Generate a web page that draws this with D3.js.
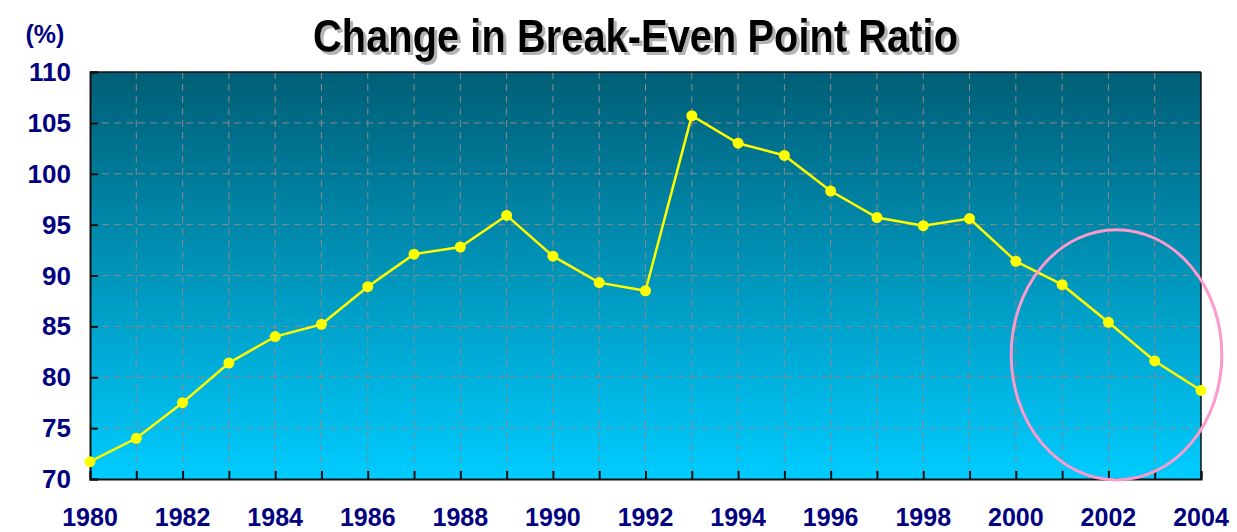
<!DOCTYPE html>
<html>
<head>
<meta charset="utf-8">
<script src="https://cdn.jsdelivr.net/npm/d3@7"></script>
<style>
  body { margin: 0; background: #fff; }
  svg { display: block; }
  .tick-label { font-family: "Liberation Sans", Arial, sans-serif; font-weight: bold; fill: #000080; font-size: 26px; }
</style>
</head>
<body>
<div id="chart"></div>
<script>
// Data
const years = [1980, 1981, 1982, 1983, 1984, 1985, 1986, 1987, 1988, 1989, 1990, 1991,
  1992, 1993, 1994, 1995, 1996, 1997, 1998, 1999, 2000, 2001, 2002, 2003, 2004];
const ratios = [71.7, 74.0, 77.5, 81.4, 84.0, 85.2, 88.9, 92.1, 92.8, 95.9, 91.9, 89.3,
  88.5, 105.7, 103.0, 101.8, 98.3, 95.7, 94.9, 95.6, 91.4, 89.1, 85.4, 81.6, 78.7];
const yTicks = [70, 75, 80, 85, 90, 95, 100, 105, 110];
const xLabelYears = years.filter((d) => d % 2 === 0);
const highlightYears = [1999.9, 2004.45]; // ellipse horizontal extent (in years)
const highlightValues = [69.9, 94.5]; // ellipse vertical extent (in %)

const data = years.map((y, i) => ({ year: y, value: ratios[i] }));

// Dimensions
let width = 1237;
let height = 532;
let margin = { top: 72, right: 36, bottom: 53, left: 90 };

const svg = d3.select("#chart").append("svg").attr("width", width).attr("height", height);

// Scales
let xScale = d3.scaleLinear().domain([1980, 2004]).range([margin.left, width - margin.right]);
let yScale = d3.scaleLinear().domain([70, 110]).range([height - margin.bottom, margin.top]);

// Background gradient
const defs = svg.append("defs");
const grad = defs.append("linearGradient").attr("id", "bg").attr("x1", 0).attr("y1", 0).attr("x2", 0).attr("y2", 1);
grad.append("stop").attr("offset", "0%").attr("stop-color", "#005e76");
grad.append("stop").attr("offset", "100%").attr("stop-color", "#00ccff");

const shadow = defs.append("filter").attr("id", "shadow").attr("x", "-5%").attr("y", "-20%").attr("width", "110%").attr("height", "140%");
shadow.append("feDropShadow").attr("dx", 3).attr("dy", 3).attr("stdDeviation", 0.7).attr("flood-color", "#aaa").attr("flood-opacity", 0.9);

svg.append("rect")
  .attr("x", xScale(1980))
  .attr("y", yScale(110))
  .attr("width", xScale(2004) - xScale(1980))
  .attr("height", yScale(70) - yScale(110))
  .attr("fill", "url(#bg)");

// Grid lines
svg.append("g")
  .selectAll("line")
  .data(years.slice(1, -1))
  .join("line")
  .attr("x1", (d) => xScale(d))
  .attr("x2", (d) => xScale(d))
  .attr("y1", yScale(110))
  .attr("y2", yScale(70))
  .attr("stroke", "#8a8a8a")
  .attr("stroke-width", 1)
  .attr("stroke-dasharray", "7,5");

svg.append("g")
  .selectAll("line")
  .data(yTicks.slice(1, -1))
  .join("line")
  .attr("x1", xScale(1980))
  .attr("x2", xScale(2004))
  .attr("y1", (d) => yScale(d))
  .attr("y2", (d) => yScale(d))
  .attr("stroke", "#8a8a8a")
  .attr("stroke-width", 1)
  .attr("stroke-dasharray", "7,5");

// Axes
const xAxisG = svg.append("g")
  .attr("transform", `translate(0,${yScale(70)})`)
  .call(d3.axisBottom(xScale).tickValues(years).tickSize(-8).tickFormat(""));
xAxisG.selectAll("line, path").attr("stroke", "#111").attr("stroke-width", 2);

const yAxisG = svg.append("g")
  .attr("transform", `translate(${xScale(1980)},0)`)
  .call(d3.axisLeft(yScale).tickValues(yTicks).tickSize(-8).tickFormat(""));
yAxisG.selectAll("line, path").attr("stroke", "#111").attr("stroke-width", 2);

svg.append("line")
  .attr("x1", xScale(2004)).attr("x2", xScale(2004))
  .attr("y1", yScale(110)).attr("y2", yScale(70))
  .attr("stroke", "#111").attr("stroke-width", 1.5);
svg.append("line")
  .attr("x1", xScale(1980)).attr("x2", xScale(2004))
  .attr("y1", yScale(110)).attr("y2", yScale(110))
  .attr("stroke", "#111").attr("stroke-width", 1.5);

// Tick labels
svg.append("g")
  .selectAll("text")
  .data(yTicks)
  .join("text")
  .attr("class", "tick-label")
  .attr("x", 71)
  .attr("y", (d) => yScale(d) + 9)
  .attr("text-anchor", "end")
  .text((d) => d);

svg.append("g")
  .selectAll("text")
  .data(xLabelYears)
  .join("text")
  .attr("class", "tick-label")
  .attr("x", (d) => xScale(d))
  .attr("y", 526)
  .attr("text-anchor", "middle")
  .style("font-size", "25px")
  .text((d) => d);

// Unit label
svg.append("text")
  .attr("class", "tick-label")
  .attr("x", 45)
  .attr("y", 43)
  .attr("text-anchor", "middle")
  .style("font-size", "25px")
  .text("(%)");

// Title
svg.append("text")
  .attr("x", 313)
  .attr("y", 52)
  .attr("textLength", 645)
  .attr("lengthAdjust", "spacingAndGlyphs")
  .attr("filter", "url(#shadow)")
  .style("font-family", "'Liberation Sans Narrow', 'Liberation Sans', Arial, sans-serif")
  .style("font-weight", "bold")
  .style("font-size", "47px")
  .style("fill", "#000")
  .text("Change in Break-Even Point Ratio");

// Line
let line = d3.line().x((d) => xScale(d.year)).y((d) => yScale(d.value));
svg.append("path")
  .datum(data)
  .attr("fill", "none")
  .attr("stroke", "#ffff00")
  .attr("stroke-width", 2.5)
  .attr("d", line);

svg.append("g")
  .selectAll("circle")
  .data(data)
  .join("circle")
  .attr("cx", (d) => xScale(d.year))
  .attr("cy", (d) => yScale(d.value))
  .attr("r", 5.5)
  .attr("fill", "#ffff00");

// Highlight ellipse
const ex0 = xScale(highlightYears[0]), ex1 = xScale(highlightYears[1]);
const ey0 = yScale(highlightValues[1]), ey1 = yScale(highlightValues[0]);
svg.append("ellipse")
  .attr("cx", (ex0 + ex1) / 2)
  .attr("cy", (ey0 + ey1) / 2)
  .attr("rx", (ex1 - ex0) / 2)
  .attr("ry", (ey1 - ey0) / 2)
  .attr("fill", "none")
  .attr("stroke", "#ff99cc")
  .attr("stroke-width", 3);
</script>
</body>
</html>
